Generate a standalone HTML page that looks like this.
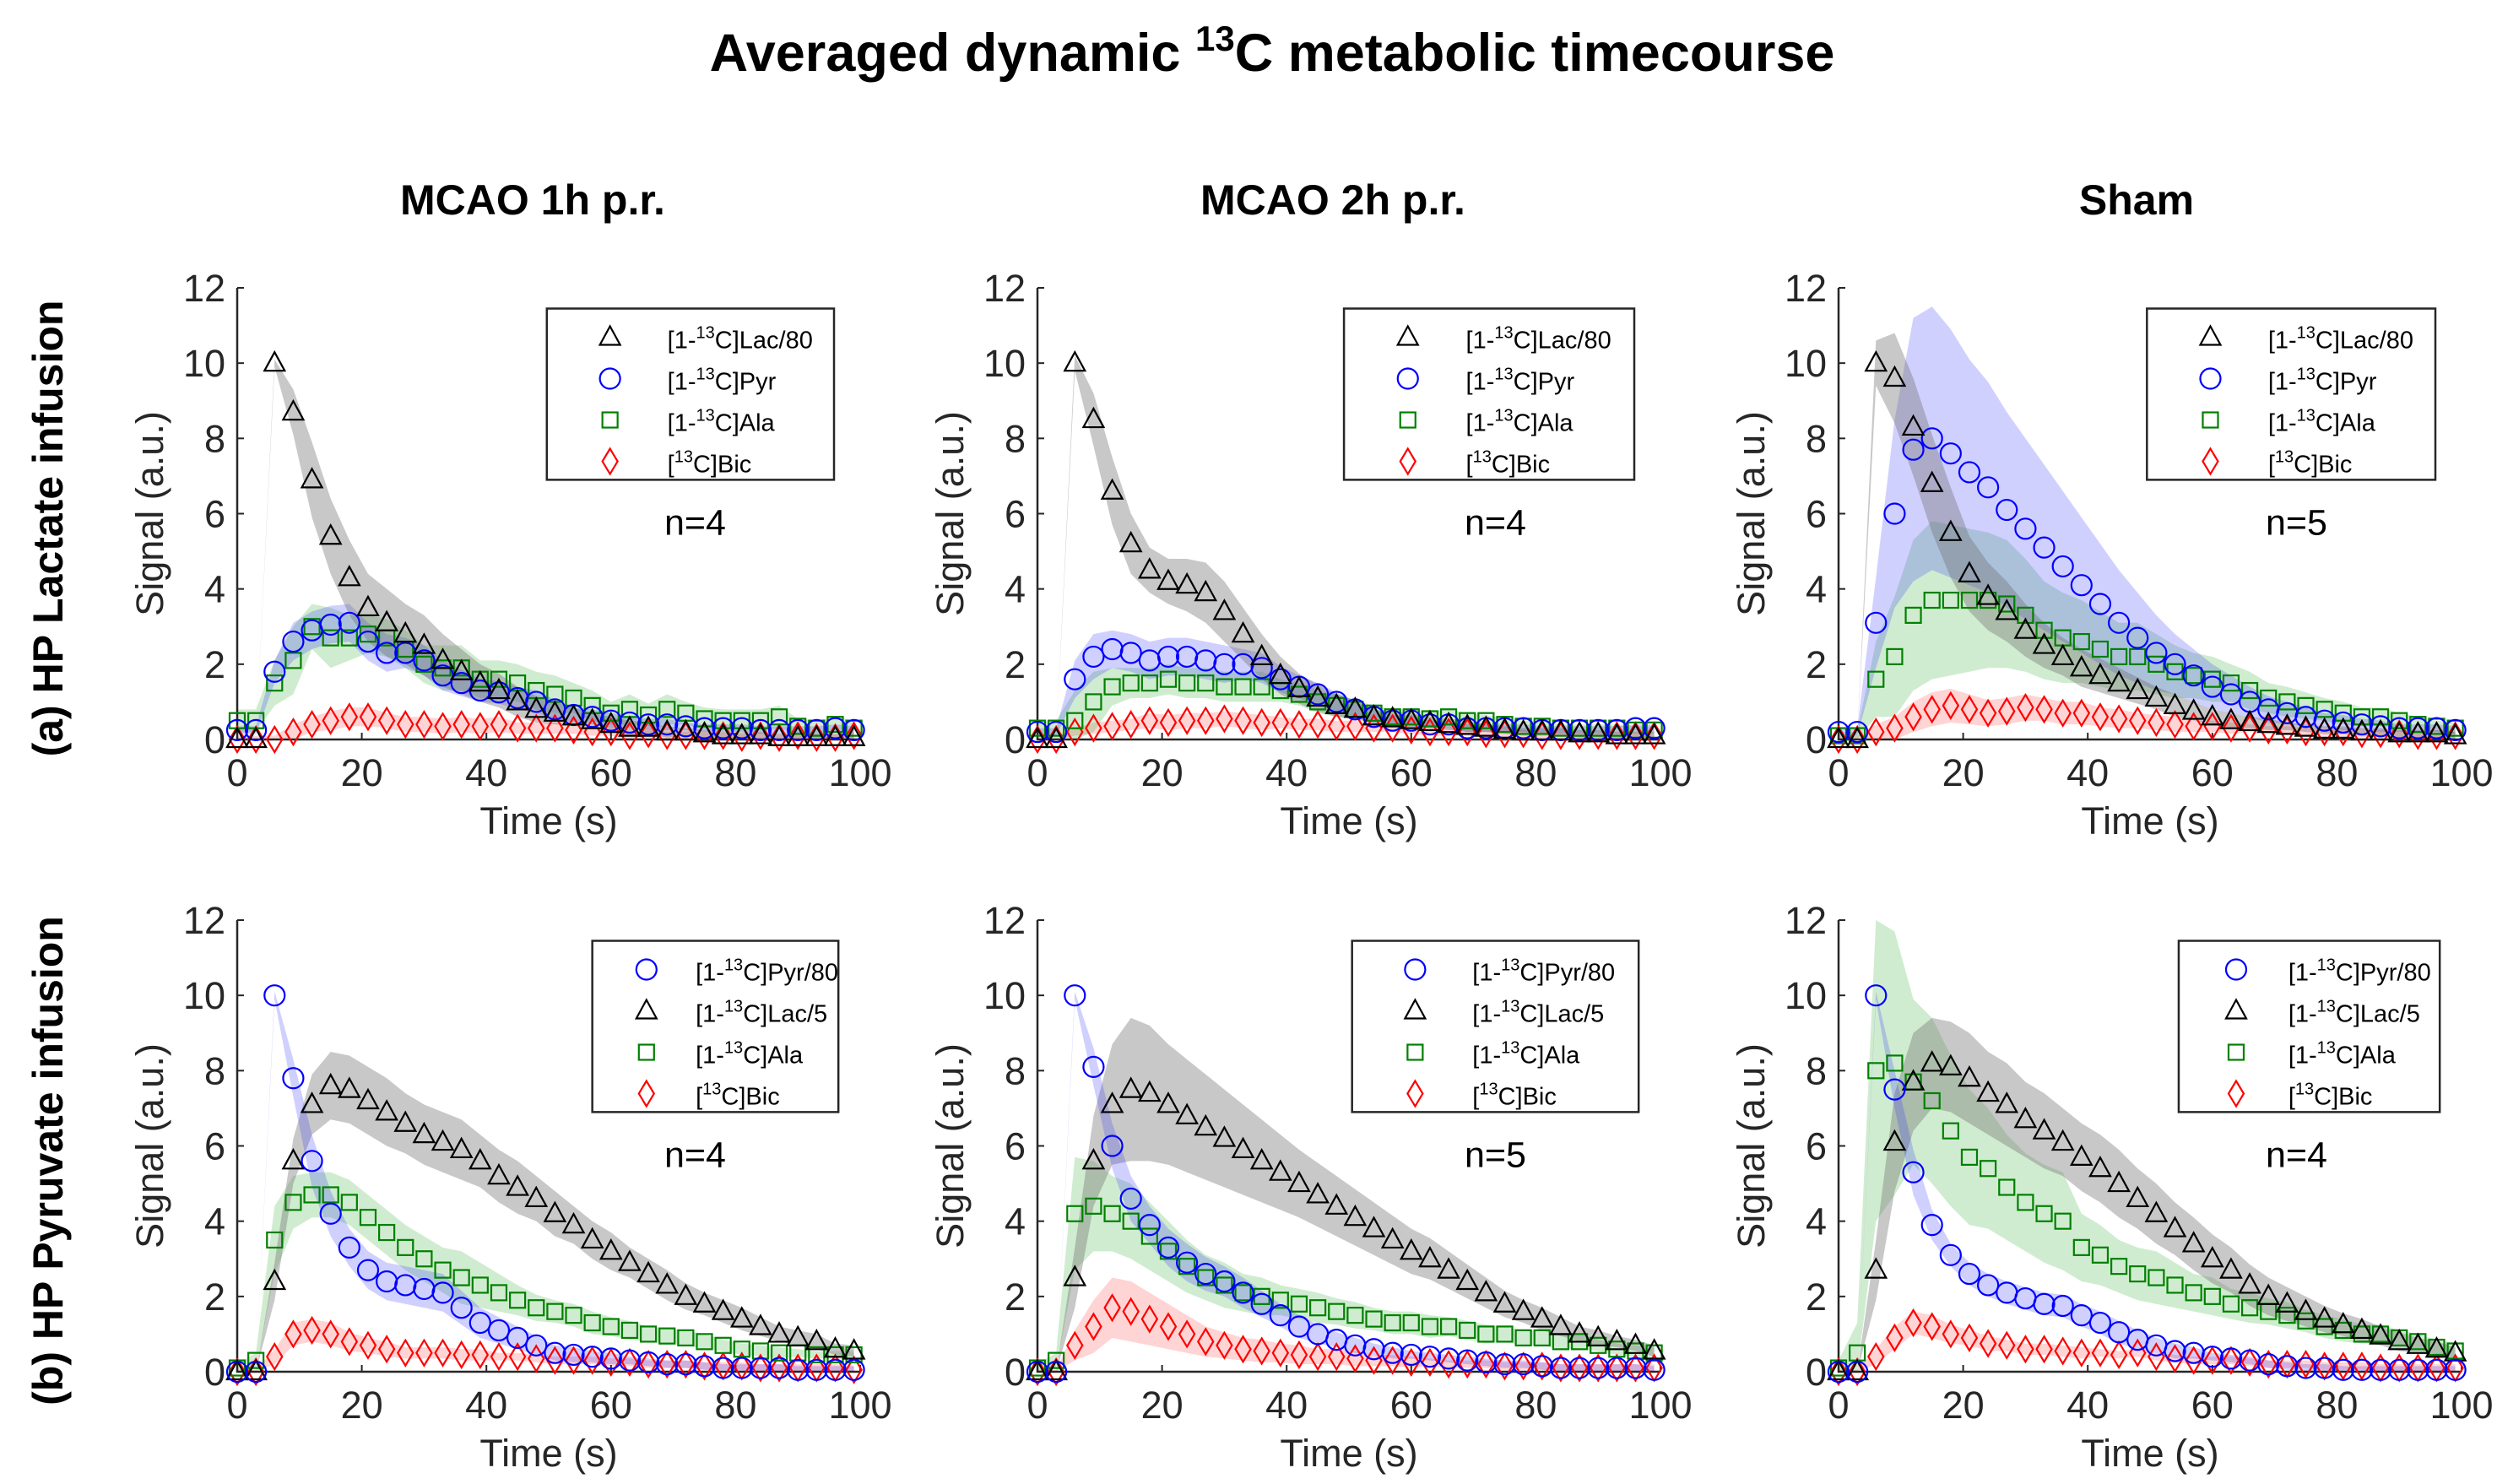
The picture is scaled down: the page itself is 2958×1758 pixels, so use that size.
<!DOCTYPE html>
<html><head><meta charset="utf-8"><style>
html,body{margin:0;padding:0;background:#fff;}
svg{display:block;font-family:"Liberation Sans",sans-serif;}
</style></head><body>
<svg id="fig" width="2958" height="1758" viewBox="0 0 2958 1758" xmlns="http://www.w3.org/2000/svg">
<text x="1507" y="84" text-anchor="middle" font-size="63" font-weight="bold" fill="#000">Averaged dynamic <tspan font-size="42" dy="-24">13</tspan><tspan dy="24">C metabolic timecourse</tspan></text>
<text x="631" y="254" text-anchor="middle" font-size="50" font-weight="bold">MCAO 1h p.r.</text>
<text x="1579" y="254" text-anchor="middle" font-size="50" font-weight="bold">MCAO 2h p.r.</text>
<text x="2531" y="254" text-anchor="middle" font-size="50" font-weight="bold">Sham</text>
<text transform="translate(74,626) rotate(-90)" text-anchor="middle" font-size="50" font-weight="bold">(a) HP Lactate infusion</text>
<text transform="translate(74,1375) rotate(-90)" text-anchor="middle" font-size="50" font-weight="bold">(b) HP Pyruvate infusion</text>
<g id="panels"></g>
</svg>
<script>
const times=[0,3,6,9,12,15,18,21,24,27,30,33,36,39,42,45,48,51,54,57,60,63,66,69,72,75,78,81,84,87,90,93,96,99];
const xTicks=[0,20,40,60,80,100];
const yTicks=[0,2,4,6,8,10,12];
// Panel 1: MCAO 1h, lactate infusion
const p1Lac=[0,0,10,8.7,6.9,5.4,4.3,3.5,3.1,2.8,2.5,2.1,1.8,1.5,1.3,1.0,0.8,0.7,0.6,0.5,0.4,0.3,0.3,0.2,0.2,0.15,0.1,0.1,0.1,0.05,0.05,0.05,0.05,0.05];
const p1LacSd=[0,0,0.1,0.6,1.0,1.0,1.0,0.9,0.9,0.8,0.8,0.7,0.6,0.5,0.45,0.4,0.35,0.3,0.25,0.2,0.2,0.2,0.15,0.15,0.1,0.1,0.1,0.1,0.1,0.1,0.1,0.1,0.1,0.1];
const p1Pyr=[0.25,0.25,1.8,2.6,2.9,3.05,3.1,2.6,2.3,2.3,2.1,1.7,1.5,1.3,1.25,1.1,1.0,0.8,0.65,0.6,0.5,0.45,0.4,0.4,0.35,0.3,0.3,0.3,0.25,0.25,0.25,0.25,0.3,0.25];
const p1PyrSd=[0.1,0.1,0.3,0.5,0.5,0.5,0.5,0.5,0.5,0.4,0.4,0.4,0.35,0.3,0.3,0.3,0.3,0.25,0.2,0.2,0.2,0.15,0.15,0.15,0.1,0.1,0.1,0.1,0.1,0.1,0.1,0.1,0.1,0.1];
const p1Ala=[0.5,0.5,1.5,2.1,3.0,2.7,2.7,2.8,2.7,2.4,2.0,1.9,1.9,1.6,1.6,1.5,1.3,1.2,1.1,0.9,0.7,0.8,0.65,0.8,0.7,0.55,0.5,0.5,0.5,0.6,0.35,0.3,0.4,0.3];
const p1AlaSd=[0.3,0.3,0.6,0.9,0.6,0.8,0.6,0.5,0.5,0.5,0.5,0.6,0.6,0.5,0.5,0.5,0.5,0.5,0.4,0.4,0.3,0.4,0.3,0.4,0.3,0.3,0.3,0.3,0.3,0.3,0.2,0.2,0.2,0.2];
const p1Bic=[0,0,0,0.2,0.4,0.5,0.6,0.6,0.5,0.4,0.4,0.35,0.4,0.35,0.4,0.3,0.3,0.3,0.25,0.2,0.2,0.1,0.15,0.1,0.1,0.1,0.1,0.05,0.1,0.05,0.1,0.05,0.05,0.1];
const p1BicSd=[0.1,0.1,0.1,0.2,0.2,0.25,0.25,0.25,0.2,0.2,0.2,0.2,0.2,0.2,0.2,0.15,0.15,0.15,0.1,0.1,0.1,0.1,0.1,0.1,0.1,0.1,0.1,0.1,0.1,0.1,0.1,0.1,0.1,0.1];
// Panel 2: MCAO 2h, lactate infusion
const p2Lac=[0,0,10,8.5,6.6,5.2,4.5,4.2,4.1,3.9,3.4,2.8,2.2,1.7,1.35,1.1,0.9,0.8,0.6,0.55,0.5,0.45,0.4,0.35,0.3,0.25,0.2,0.2,0.2,0.15,0.15,0.1,0.1,0.1];
const p2LacSd=[0,0,0.2,0.7,0.9,0.8,0.6,0.6,0.7,0.8,0.8,0.7,0.6,0.5,0.4,0.35,0.3,0.25,0.2,0.2,0.2,0.15,0.15,0.15,0.1,0.1,0.1,0.1,0.1,0.1,0.1,0.1,0.1,0.1];
const p2Pyr=[0.2,0.2,1.6,2.2,2.4,2.3,2.1,2.2,2.2,2.1,2.0,2.0,1.9,1.6,1.4,1.2,1.0,0.8,0.6,0.5,0.5,0.4,0.4,0.3,0.3,0.3,0.3,0.25,0.25,0.25,0.25,0.25,0.3,0.3];
const p2PyrSd=[0.1,0.1,0.5,0.6,0.5,0.5,0.5,0.5,0.5,0.5,0.5,0.4,0.4,0.35,0.3,0.3,0.25,0.2,0.2,0.15,0.15,0.1,0.1,0.1,0.1,0.1,0.1,0.1,0.1,0.1,0.1,0.1,0.1,0.1];
const p2Ala=[0.3,0.3,0.5,1.0,1.4,1.5,1.5,1.6,1.5,1.5,1.4,1.4,1.4,1.3,1.2,1.0,0.9,0.8,0.7,0.6,0.6,0.55,0.6,0.5,0.5,0.4,0.35,0.35,0.3,0.3,0.3,0.3,0.25,0.25];
const p2AlaSd=[0.2,0.2,0.8,0.8,0.5,0.4,0.4,0.4,0.4,0.4,0.4,0.4,0.4,0.3,0.3,0.3,0.3,0.25,0.2,0.2,0.2,0.2,0.2,0.2,0.15,0.15,0.15,0.15,0.1,0.1,0.1,0.1,0.1,0.1];
const p2Bic=[0,0,0.2,0.3,0.35,0.4,0.5,0.45,0.5,0.5,0.55,0.5,0.45,0.45,0.4,0.4,0.35,0.35,0.3,0.3,0.25,0.2,0.2,0.2,0.15,0.15,0.15,0.1,0.1,0.1,0.1,0.1,0.1,0.1];
const p2BicSd=[0.1,0.1,0.1,0.15,0.15,0.15,0.2,0.2,0.2,0.2,0.2,0.2,0.2,0.15,0.15,0.15,0.15,0.15,0.1,0.1,0.1,0.1,0.1,0.1,0.1,0.1,0.1,0.1,0.1,0.1,0.1,0.1,0.1,0.1];
// Panel 3: Sham, lactate infusion
const p3Lac=[0,0,10,9.6,8.3,6.8,5.5,4.4,3.8,3.4,2.9,2.5,2.2,1.9,1.7,1.5,1.3,1.1,0.9,0.75,0.6,0.5,0.45,0.4,0.35,0.3,0.25,0.25,0.2,0.2,0.15,0.15,0.15,0.1];
const p3LacSd=[0,0,0.6,1.2,1.3,1.3,1.2,1.0,0.9,0.8,0.7,0.6,0.5,0.5,0.45,0.4,0.35,0.3,0.3,0.25,0.2,0.2,0.15,0.15,0.1,0.1,0.1,0.1,0.1,0.1,0.1,0.1,0.1,0.1];
const p3Pyr=[0.2,0.2,3.1,6.0,7.7,8.0,7.6,7.1,6.7,6.1,5.6,5.1,4.6,4.1,3.6,3.1,2.7,2.3,2.0,1.7,1.4,1.2,1.0,0.8,0.7,0.6,0.5,0.45,0.4,0.35,0.3,0.3,0.3,0.25];
const p3PyrSd=[0.1,0.1,1.2,2.5,3.5,3.5,3.3,3.0,2.8,2.6,2.4,2.2,2.0,1.8,1.6,1.4,1.2,1.0,0.8,0.7,0.6,0.5,0.4,0.35,0.3,0.25,0.2,0.2,0.15,0.15,0.1,0.1,0.1,0.1];
const p3Ala=[0.1,0.1,1.6,2.2,3.3,3.7,3.7,3.7,3.7,3.6,3.3,2.9,2.7,2.6,2.4,2.2,2.2,2.0,1.8,1.7,1.6,1.5,1.3,1.1,1.0,0.9,0.8,0.7,0.6,0.6,0.5,0.4,0.35,0.3];
const p3AlaSd=[0.1,0.1,1.0,1.6,2.0,2.1,2.0,1.9,1.8,1.7,1.5,1.3,1.2,1.1,1.0,0.9,0.9,0.8,0.7,0.6,0.6,0.5,0.5,0.4,0.4,0.35,0.3,0.3,0.25,0.25,0.2,0.2,0.15,0.15];
const p3Bic=[0,0,0.2,0.3,0.6,0.8,0.9,0.8,0.7,0.75,0.85,0.8,0.7,0.7,0.6,0.55,0.5,0.45,0.4,0.35,0.35,0.3,0.3,0.25,0.25,0.2,0.2,0.2,0.15,0.15,0.15,0.1,0.1,0.1];
const p3BicSd=[0.1,0.1,0.2,0.3,0.4,0.45,0.45,0.4,0.35,0.35,0.35,0.3,0.3,0.3,0.25,0.25,0.2,0.2,0.2,0.15,0.15,0.15,0.1,0.1,0.1,0.1,0.1,0.1,0.1,0.1,0.1,0.1,0.1,0.1];
// Panel 4: MCAO 1h, pyruvate infusion
const p4Pyr=[0,0,10,7.8,5.6,4.2,3.3,2.7,2.4,2.3,2.2,2.1,1.7,1.3,1.1,0.9,0.7,0.5,0.45,0.4,0.35,0.3,0.25,0.2,0.2,0.15,0.1,0.1,0.1,0.1,0.05,0.05,0.05,0.05];
const p4PyrSd=[0,0,0.1,0.5,0.7,0.6,0.5,0.5,0.5,0.5,0.5,0.5,0.45,0.4,0.35,0.3,0.25,0.2,0.2,0.15,0.15,0.1,0.1,0.1,0.1,0.1,0.1,0.1,0.1,0.1,0.1,0.1,0.1,0.1];
const p4Lac=[0,0,2.4,5.6,7.1,7.6,7.5,7.2,6.9,6.6,6.3,6.1,5.9,5.6,5.2,4.9,4.6,4.2,3.9,3.5,3.2,2.9,2.6,2.3,2.0,1.8,1.6,1.4,1.2,1.0,0.9,0.8,0.6,0.55];
const p4LacSd=[0,0,0.5,0.6,0.8,0.9,0.9,0.9,0.9,0.8,0.8,0.8,0.8,0.7,0.7,0.7,0.6,0.6,0.5,0.5,0.5,0.4,0.4,0.4,0.35,0.3,0.3,0.3,0.25,0.2,0.2,0.2,0.15,0.15];
const p4Ala=[0.1,0.3,3.5,4.5,4.7,4.7,4.5,4.1,3.7,3.3,3.0,2.7,2.5,2.3,2.1,1.9,1.7,1.6,1.5,1.3,1.2,1.1,1.0,0.95,0.9,0.8,0.7,0.6,0.55,0.5,0.5,0.45,0.45,0.45];
const p4AlaSd=[0.1,0.2,0.9,0.7,0.6,0.6,0.6,0.6,0.6,0.6,0.6,0.6,0.7,0.6,0.5,0.4,0.35,0.3,0.3,0.3,0.25,0.25,0.2,0.2,0.2,0.2,0.15,0.15,0.15,0.15,0.1,0.1,0.1,0.1];
const p4Bic=[0,0,0.4,1.0,1.1,1.0,0.8,0.7,0.6,0.5,0.5,0.5,0.45,0.45,0.4,0.4,0.35,0.3,0.3,0.3,0.25,0.25,0.2,0.2,0.2,0.15,0.15,0.15,0.1,0.1,0.1,0.1,0.1,0.05];
const p4BicSd=[0.05,0.05,0.2,0.3,0.3,0.3,0.25,0.2,0.2,0.15,0.15,0.15,0.15,0.15,0.1,0.1,0.1,0.1,0.1,0.1,0.1,0.1,0.1,0.1,0.1,0.1,0.1,0.1,0.1,0.1,0.1,0.1,0.1,0.1];
// Panel 5: MCAO 2h, pyruvate infusion
const p5Pyr=[0,0,10,8.1,6.0,4.6,3.9,3.3,2.9,2.6,2.4,2.1,1.8,1.5,1.2,1.0,0.85,0.7,0.6,0.5,0.45,0.4,0.35,0.3,0.25,0.2,0.2,0.15,0.1,0.1,0.1,0.1,0.1,0.05];
const p5PyrSd=[0,0,0.1,0.5,0.6,0.6,0.5,0.5,0.5,0.45,0.4,0.4,0.35,0.3,0.3,0.25,0.2,0.2,0.15,0.15,0.1,0.1,0.1,0.1,0.1,0.1,0.1,0.1,0.1,0.1,0.1,0.1,0.1,0.1];
const p5Lac=[0,0,2.5,5.6,7.1,7.5,7.4,7.1,6.8,6.5,6.2,5.9,5.6,5.3,5.0,4.7,4.4,4.1,3.8,3.5,3.2,3.0,2.7,2.4,2.1,1.8,1.6,1.4,1.2,1.0,0.9,0.8,0.7,0.55];
const p5LacSd=[0,0,0.8,1.2,1.6,1.9,1.8,1.6,1.5,1.4,1.3,1.2,1.1,1.0,0.9,0.85,0.8,0.75,0.7,0.65,0.6,0.55,0.5,0.45,0.4,0.35,0.3,0.3,0.25,0.2,0.2,0.15,0.15,0.15];
const p5Ala=[0.1,0.3,4.2,4.4,4.2,4.0,3.6,3.2,2.8,2.5,2.3,2.1,2.0,1.9,1.8,1.7,1.6,1.5,1.4,1.3,1.3,1.2,1.2,1.1,1.0,1.0,0.9,0.9,0.8,0.8,0.7,0.6,0.55,0.5];
const p5AlaSd=[0.1,0.2,1.5,1.2,1.0,1.0,0.9,0.8,0.7,0.6,0.6,0.5,0.5,0.4,0.4,0.4,0.35,0.35,0.3,0.3,0.3,0.3,0.25,0.25,0.25,0.2,0.2,0.2,0.2,0.2,0.15,0.15,0.15,0.15];
const p5Bic=[0,0,0.7,1.2,1.7,1.6,1.4,1.2,1.0,0.8,0.7,0.6,0.55,0.5,0.45,0.4,0.4,0.35,0.3,0.3,0.25,0.25,0.2,0.2,0.2,0.15,0.15,0.15,0.1,0.1,0.1,0.1,0.1,0.1];
const p5BicSd=[0.05,0.05,0.4,0.7,0.8,0.8,0.7,0.6,0.5,0.4,0.35,0.3,0.3,0.25,0.25,0.2,0.2,0.2,0.15,0.15,0.15,0.1,0.1,0.1,0.1,0.1,0.1,0.1,0.1,0.1,0.1,0.1,0.1,0.1];
// Panel 6: Sham, pyruvate infusion
const p6Pyr=[0,0,10,7.5,5.3,3.9,3.1,2.6,2.3,2.1,1.95,1.8,1.75,1.5,1.3,1.05,0.85,0.7,0.55,0.5,0.4,0.35,0.3,0.2,0.15,0.1,0.1,0.05,0.05,0.05,0.05,0.05,0.05,0.05];
const p6PyrSd=[0,0,0.1,0.5,0.6,0.4,0.3,0.3,0.3,0.3,0.3,0.3,0.3,0.3,0.3,0.3,0.25,0.2,0.2,0.15,0.1,0.1,0.1,0.1,0.1,0.1,0.1,0.1,0.1,0.1,0.1,0.1,0.1,0.1];
const p6Lac=[0,0,2.7,6.1,7.7,8.2,8.1,7.8,7.4,7.1,6.7,6.4,6.1,5.7,5.4,5.0,4.6,4.2,3.8,3.4,3.0,2.7,2.3,2.0,1.8,1.6,1.4,1.25,1.1,0.95,0.8,0.7,0.6,0.5];
const p6LacSd=[0,0,0.8,1.3,1.3,1.2,1.2,1.2,1.1,1.1,1.0,1.0,0.9,0.9,0.9,0.9,0.8,0.8,0.7,0.7,0.65,0.6,0.55,0.5,0.45,0.4,0.35,0.3,0.3,0.25,0.25,0.2,0.2,0.15];
const p6Ala=[0.1,0.5,8.0,8.2,7.7,7.2,6.4,5.7,5.4,4.9,4.5,4.2,4.0,3.3,3.1,2.8,2.6,2.5,2.3,2.1,2.0,1.8,1.7,1.6,1.5,1.35,1.2,1.1,1.0,1.0,0.9,0.8,0.65,0.55];
const p6AlaSd=[0.2,0.8,4.0,3.5,2.2,2.2,2.0,1.8,1.6,1.4,1.3,1.3,1.3,0.9,0.8,0.7,0.7,0.7,0.6,0.5,0.5,0.4,0.4,0.35,0.35,0.3,0.3,0.3,0.25,0.25,0.2,0.2,0.2,0.2];
const p6Bic=[0,0,0.4,0.9,1.3,1.2,1.0,0.9,0.75,0.7,0.6,0.6,0.55,0.5,0.5,0.45,0.5,0.4,0.35,0.3,0.3,0.3,0.25,0.2,0.2,0.2,0.15,0.15,0.15,0.1,0.1,0.1,0.1,0.1];
const p6BicSd=[0.05,0.05,0.2,0.3,0.3,0.3,0.25,0.2,0.2,0.15,0.15,0.15,0.15,0.15,0.1,0.1,0.1,0.1,0.1,0.1,0.1,0.1,0.1,0.1,0.1,0.1,0.1,0.1,0.1,0.1,0.1,0.1,0.1,0.1];

const NS="http://www.w3.org/2000/svg";
const STY={
 lac:{stroke:"#000",fill:"rgba(110,110,110,0.38)",shape:"tri"},
 pyr:{stroke:"#0000ff",fill:"rgba(40,40,255,0.22)",shape:"circ"},
 ala:{stroke:"#008000",fill:"rgba(40,170,40,0.22)",shape:"sq"},
 bic:{stroke:"#ff0000",fill:"rgba(255,40,40,0.2)",shape:"dia"}
};
function mk(tag,attrs,parent){const e=document.createElementNS(NS,tag);for(const k in attrs)e.setAttribute(k,attrs[k]);parent.appendChild(e);return e;}
function labelTxt(g,x,y,sup,pre,post,name){
 const t=mk("text",{x:x,y:y,"font-size":29},g);
 
 
 t.appendChild(document.createTextNode(pre));
 const s=mk("tspan",{"font-size":20,dy:-12},t);s.textContent=sup;
 const r=mk("tspan",{dy:12},t);r.textContent=post;
}
const panels=[
 {id:"p1",x0:281,y0:876,series:[["bic",p1Bic,p1BicSd],["ala",p1Ala,p1AlaSd],["pyr",p1Pyr,p1PyrSd],["lac",p1Lac,p1LacSd]],order:["lac","pyr","ala","bic"],n:"n=4",lx:49.7},
 {id:"p2",x0:1229,y0:876,series:[["bic",p2Bic,p2BicSd],["ala",p2Ala,p2AlaSd],["pyr",p2Pyr,p2PyrSd],["lac",p2Lac,p2LacSd]],order:["lac","pyr","ala","bic"],n:"n=4",lx:49.2},
 {id:"p3",x0:2178,y0:876,series:[["bic",p3Bic,p3BicSd],["ala",p3Ala,p3AlaSd],["pyr",p3Pyr,p3PyrSd],["lac",p3Lac,p3LacSd]],order:["lac","pyr","ala","bic"],n:"n=5",lx:49.5},
 {id:"p4",x0:281,y0:1625,series:[["bic",p4Bic,p4BicSd],["ala",p4Ala,p4AlaSd],["lac",p4Lac,p4LacSd],["pyr",p4Pyr,p4PyrSd]],order:["pyr","lac","ala","bic"],n:"n=4",lx:57},
 {id:"p5",x0:1229,y0:1625,series:[["bic",p5Bic,p5BicSd],["ala",p5Ala,p5AlaSd],["lac",p5Lac,p5LacSd],["pyr",p5Pyr,p5PyrSd]],order:["pyr","lac","ala","bic"],n:"n=5",lx:50.5},
 {id:"p6",x0:2178,y0:1625,series:[["bic",p6Bic,p6BicSd],["ala",p6Ala,p6AlaSd],["lac",p6Lac,p6LacSd],["pyr",p6Pyr,p6PyrSd]],order:["pyr","lac","ala","bic"],n:"n=4",lx:54.6}
];
const W=738,H=535;
const legendText={
 top:{lac:["13","[1-","C]Lac/80"],pyr:["13","[1-","C]Pyr"],ala:["13","[1-","C]Ala"],bic:["13","[","C]Bic"]},
 bot:{pyr:["13","[1-","C]Pyr/80"],lac:["13","[1-","C]Lac/5"],ala:["13","[1-","C]Ala"],bic:["13","[","C]Bic"]}
};
function marker(g,shape,cx,cy,stroke,name){
 let e;
 if(shape==="tri") e=mk("polygon",{points:`${cx},${cy-13} ${cx-12},${cy+9} ${cx+12},${cy+9}`},g);
 else if(shape==="circ") e=mk("circle",{cx:cx,cy:cy,r:12},g);
 else if(shape==="sq") e=mk("rect",{x:cx-9,y:cy-9,width:18,height:18},g);
 else e=mk("polygon",{points:`${cx},${cy-15} ${cx+9},${cy} ${cx},${cy+15} ${cx-9},${cy}`},g);
 
 
 e.setAttribute("fill","none");e.setAttribute("stroke",stroke);e.setAttribute("stroke-width","2.2");
 return e;
}
const root=document.getElementById("panels");
panels.forEach((p,pi)=>{
 const xS=v=>p.x0+v/100*W, yS=v=>p.y0-v/12*H;
 const g=mk("g",{},root);
 
 
 p.series.forEach(([k,vals,sd])=>{
  let up=times.map((t,i)=>`${xS(t)},${yS(Math.min(12.2,vals[i]+sd[i]))}`);
  let lo=times.map((t,i)=>`${xS(t)},${yS(Math.max(0,vals[i]-sd[i]))}`).reverse();
  const b=mk("polygon",{points:up.concat(lo).join(" "),fill:STY[k].fill,stroke:"none"},g);
  
  
 });
 const ax=mk("path",{d:`M${p.x0},${yS(12)} V${p.y0} H${xS(100)}`,stroke:"#262626","stroke-width":2.5,fill:"none"},g);
 
 
 yTicks.forEach(v=>{
  mk("line",{x1:p.x0,x2:p.x0+8,y1:yS(v),y2:yS(v),stroke:"#262626","stroke-width":2},g);
  const t=mk("text",{x:p.x0-14,y:yS(v)+16,"text-anchor":"end","font-size":45,fill:"#262626"},g);
  
  
  t.textContent=v;
 });
 xTicks.forEach(v=>{
  mk("line",{x1:xS(v),x2:xS(v),y1:p.y0,y2:p.y0-8,stroke:"#262626","stroke-width":2},g);
  const t=mk("text",{x:xS(v),y:p.y0+55,"text-anchor":"middle","font-size":45,fill:"#262626"},g);
  
  
  t.textContent=v;
 });
 const yt=mk("text",{transform:`translate(${p.x0-88},${p.y0-H/2}) rotate(-90)`,"text-anchor":"middle","font-size":45,fill:"#262626"},g);
 
 
 yt.textContent="Signal (a.u.)";
 const xt=mk("text",{x:xS(50),y:p.y0+112,"text-anchor":"middle","font-size":45,fill:"#262626"},g);
 
 
 xt.textContent="Time (s)";
 p.series.forEach(([k,vals])=>{
  times.forEach((t,i)=>{marker(g,STY[k].shape,xS(t),yS(vals[i]),STY[k].stroke,k+'-point');});
 });
 const lg=mk("g",{},g);
 
 
 const lx=xS(p.lx), ly=yS(11.45), lw=(pi>=3? (xS(96.5)-lx):(xS(95.8)-lx)), lh=yS(6.9)-ly;
 mk("rect",{x:lx,y:ly,width:lw,height:lh,fill:"#fff",stroke:"#262626","stroke-width":2.5},lg);
 const texts=pi>=3?legendText.bot:legendText.top;
 p.order.forEach((k,j)=>{
  const cy=ly+34+j*49;
  marker(lg,STY[k].shape,lx+lw*0.22,cy,STY[k].stroke,'legend-marker-'+k);
  const tx=texts[k];
  labelTxt(lg,lx+lw*0.42,cy+13,tx[0],tx[1],tx[2],'legend-entry-'+k);
 });
 const nt=mk("text",{x:xS(73.5),y:yS(5.8)+16,"text-anchor":"middle","font-size":43,fill:"#000"},g);
 
 
 nt.textContent=p.n;
});
</script>
</body></html>
